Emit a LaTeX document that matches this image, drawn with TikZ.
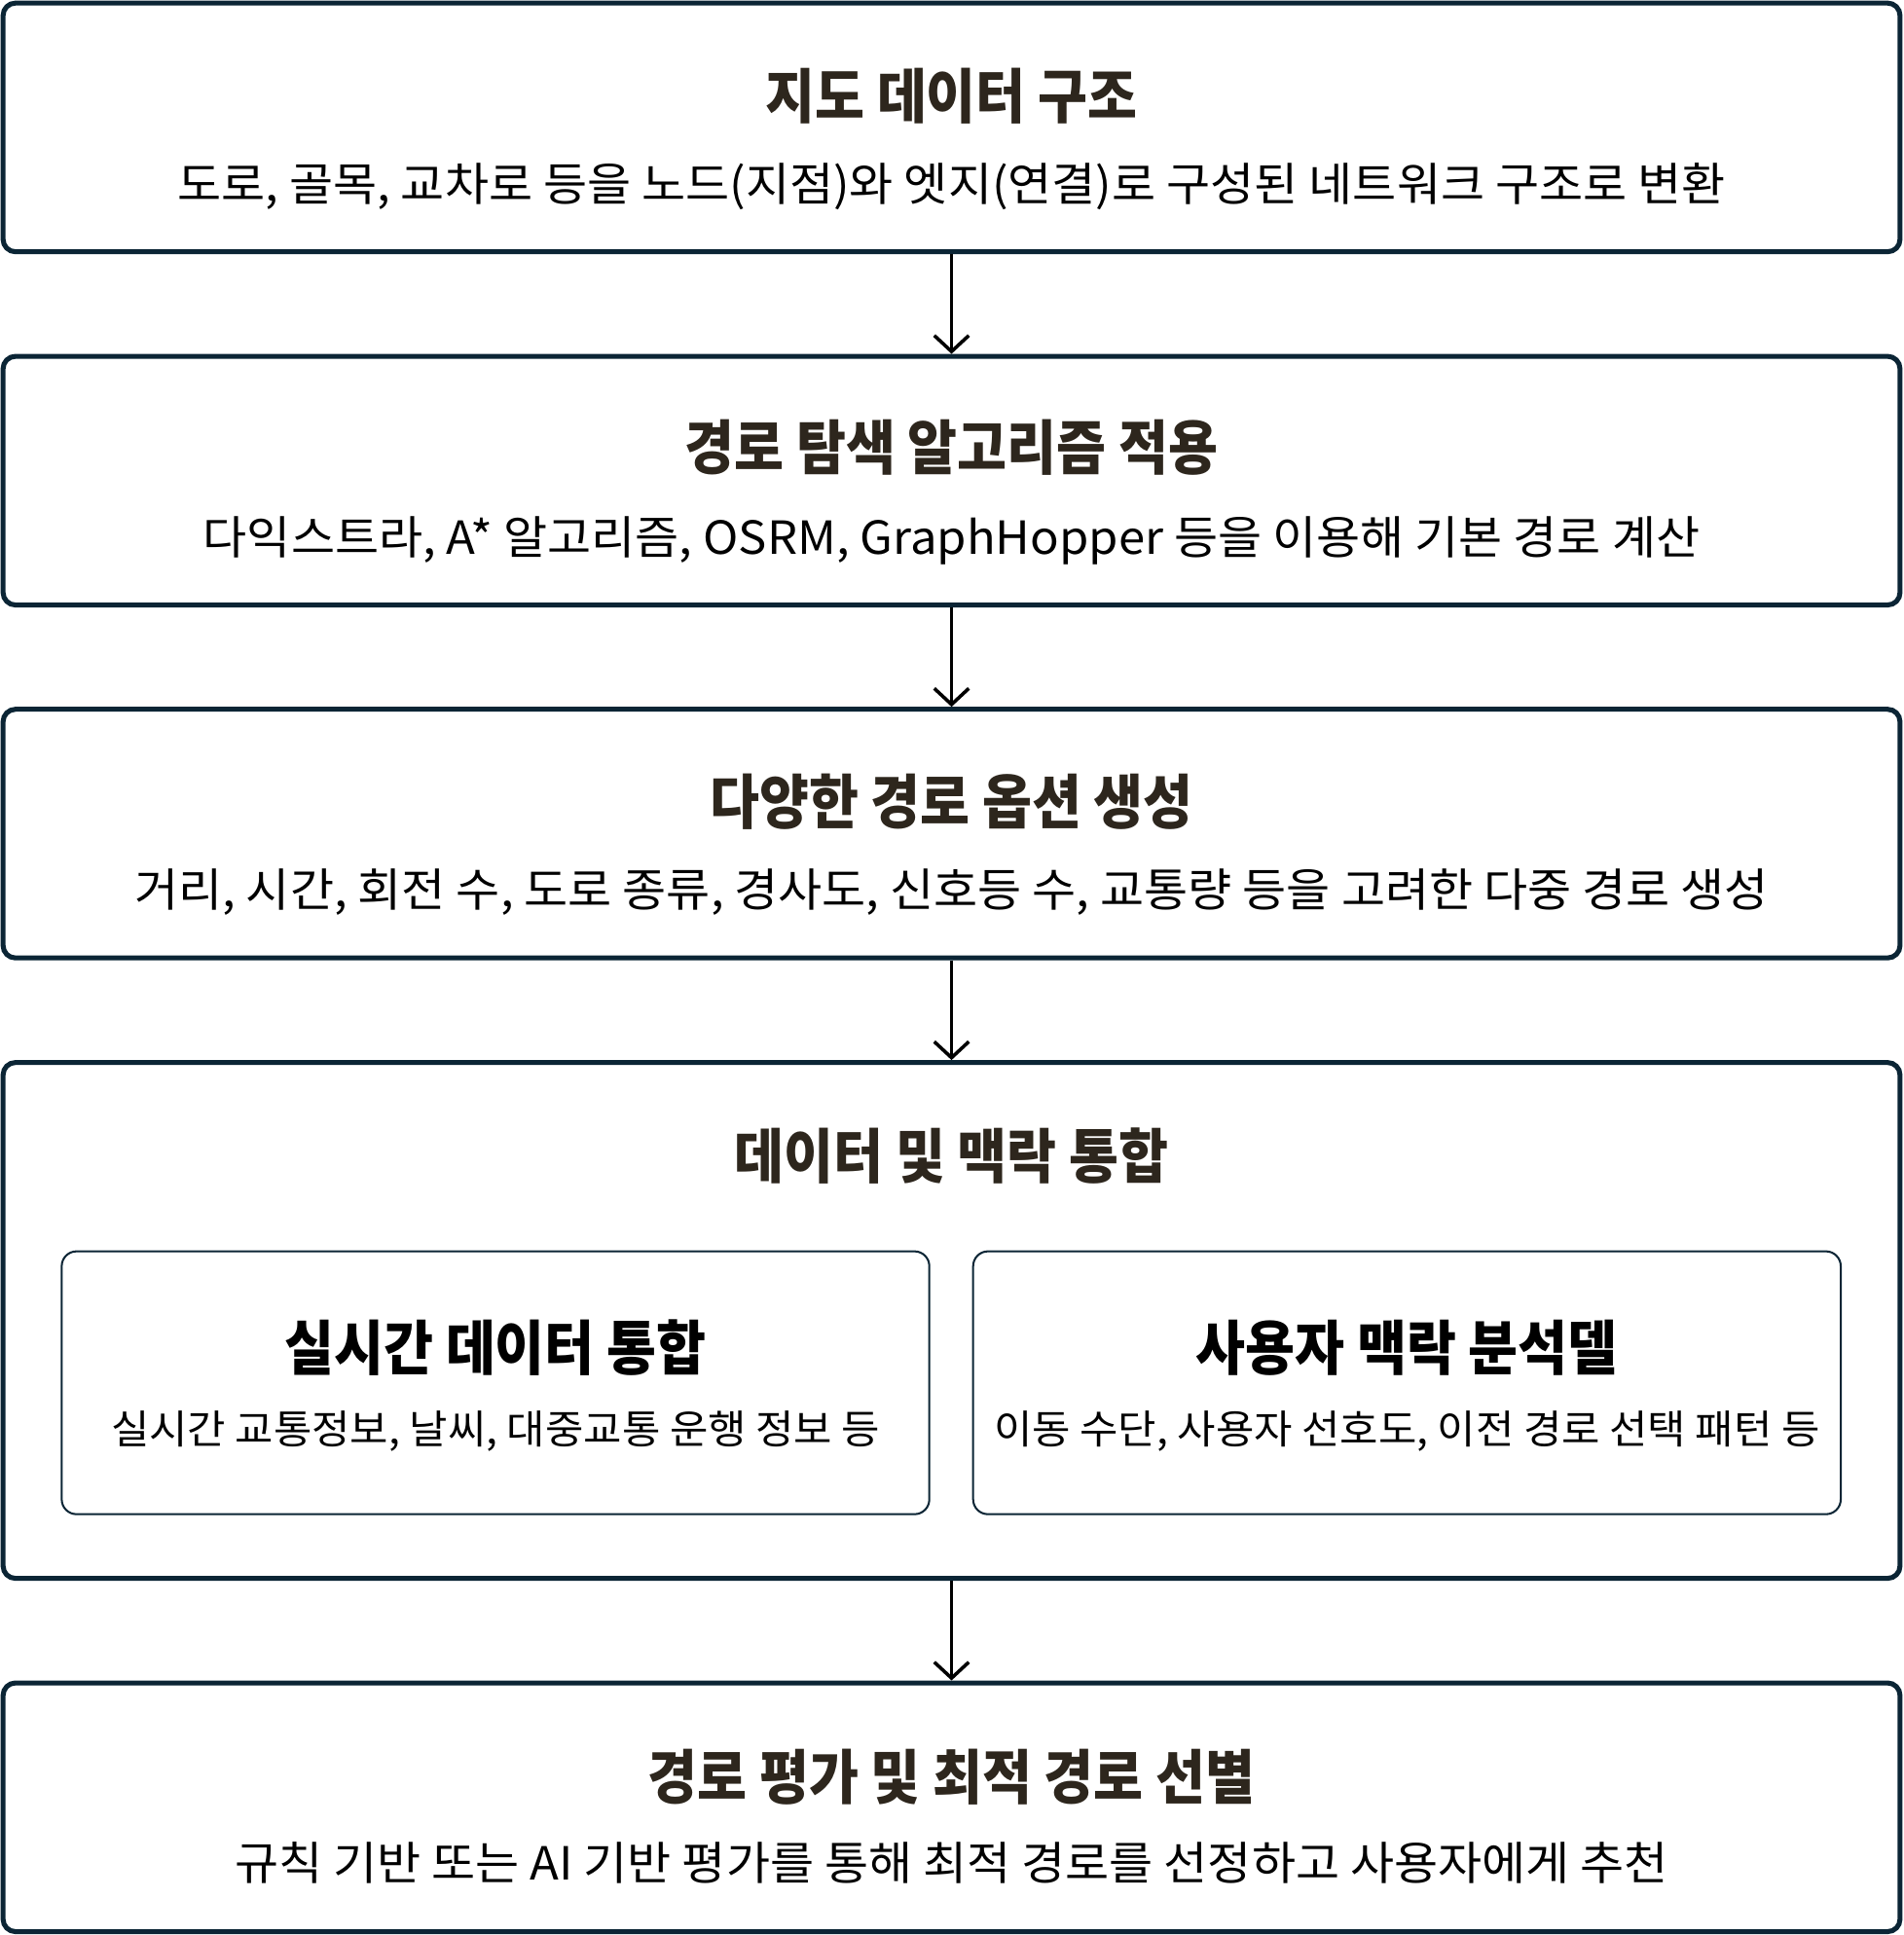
\documentclass[tikz,border=0pt]{standalone}
\usepackage{fontspec}
\setmainfont{Noto Sans CJK KR}
\newfontfamily\ttlfont[FakeStretch=0.91]{Noto Sans CJK KR}
\newfontfamily\subfont[FakeStretch=1.045]{Noto Sans CJK KR}
\usetikzlibrary{arrows.meta}
\definecolor{bordercol}{HTML}{0B2535}
\definecolor{titlecol}{HTML}{2D261D}
\tikzset{
  outerbox/.style={draw=bordercol, line width=4pt, rounded corners=10pt, fill=white, minimum width=1537pt, inner sep=0pt},
  innerbox/.style={draw=bordercol, line width=1.6pt, rounded corners=12pt, fill=white, minimum width=703pt, minimum height=213pt, inner sep=0pt},
  arr/.style={draw=black, line width=2.8pt, -{Straight Barb[length=13pt,width=28pt]}},
  ttl/.style={font=\ttlfont\bfseries\fontsize{48}{52}\selectfont, text=titlecol, anchor=center, inner sep=0pt, text height=0.8em, text depth=0.04em},
  ittl/.style={ttl, text=black},
  sub/.style={font=\subfont\fontsize{37}{40}\selectfont, text=black, anchor=center, inner sep=0pt, text height=0.8em, text depth=0.04em},
  isub/.style={sub, font=\subfont\fontsize{32.3}{36}\selectfont},
}
\begin{document}
\begin{tikzpicture}[x=1pt,y=-1pt]
\useasboundingbox (0,0) rectangle (1542,1568);
% boxes
\node[outerbox, minimum height=201.5pt] (b1) at (771,103.25) {};
\node[outerbox, minimum height=201.5pt] (b2) at (771,389.5) {};
\node[outerbox, minimum height=201.5pt] (b3) at (771,675.5) {};
\node[outerbox, minimum height=418pt] (b4) at (771,1070) {};
\node[outerbox, minimum height=201.5pt] (b5) at (771,1464.5) {};
\node[innerbox] (il) at (401.5,1120.5) {};
\node[innerbox] (ir) at (1140,1120.5) {};
% texts
\node[ttl] (t1) at (771,92) {지도 데이터 구조};
\node[sub] (s1) at (771,159) {도로, 골목, 교차로 등을 노드(지점)와 엣지(연결)로 구성된 네트워크 구조로 변환};
\node[ttl] (t2) at (771,377) {경로 탐색 알고리즘 적용};
\node[sub] (s2) at (771,445) {다익스트라, A* 알고리즘, OSRM, GraphHopper 등을 이용해 기본 경로 계산};
\node[ttl] (t3) at (771,664) {다양한 경로 옵션 생성};
\node[sub] (s3) at (771,731) {거리, 시간, 회전 수, 도로 종류, 경사도, 신호등 수, 교통량 등을 고려한 다중 경로 생성};
\node[ttl] (t4) at (771,951) {데이터 및 맥락 통합};
\node[ittl] (tl) at (401.5,1106) {실시간 데이터 통합};
\node[isub] (sl) at (401.5,1166) {실시간 교통정보, 날씨, 대중교통 운행 정보 등};
\node[ittl] (tr) at (1140,1106) {사용자 맥락 분석델};
\node[isub] (sr) at (1140,1166) {이동 수단, 사용자 선호도, 이전 경로 선택 패턴 등};
\node[ttl] (t5) at (771,1454) {경로 평가 및 최적 경로 선별};
\node[sub] (s5) at (771,1520) {규칙 기반 또는 AI 기반 평가를 통해 최적 경로를 선정하고 사용자에게 추천};
% arrows
\draw[arr] (b1.south) -- (b2.north);
\draw[arr] (b2.south) -- (b3.north);
\draw[arr] (b3.south) -- (b4.north);
\draw[arr] (b4.south) -- (b5.north);
\end{tikzpicture}
\end{document}
